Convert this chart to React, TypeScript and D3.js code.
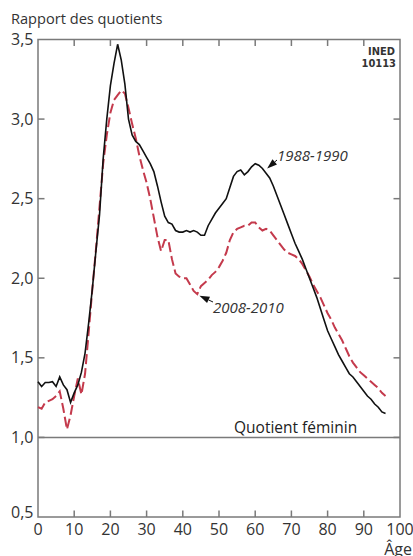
import React, { useEffect, useRef } from "react";
import * as d3 from "d3";

// ages 0..96, one value per year
const ages = d3.range(0, 97);

// 1988-1990 (solid black)
const ratio1988 = [
  1.35, 1.32, 1.345, 1.345, 1.35, 1.32, 1.38, 1.33, 1.30, 1.22,
  1.28, 1.33, 1.41, 1.53, 1.72, 1.93, 2.17, 2.40, 2.75, 3.00,
  3.21, 3.35, 3.47, 3.37, 3.22, 3.00, 2.90, 2.86, 2.84, 2.80,
  2.76, 2.72, 2.67, 2.58, 2.48, 2.39, 2.35, 2.34, 2.30, 2.29,
  2.29, 2.30, 2.29, 2.30, 2.29, 2.27, 2.27, 2.33, 2.37, 2.41,
  2.44, 2.47, 2.50, 2.57, 2.64, 2.67, 2.68, 2.65, 2.67, 2.70,
  2.72, 2.71, 2.69, 2.66, 2.63, 2.58, 2.52, 2.46, 2.40, 2.34,
  2.28, 2.22, 2.17, 2.12, 2.06, 2.00, 1.94, 1.88, 1.81, 1.74,
  1.67, 1.62, 1.57, 1.52, 1.48, 1.44, 1.40, 1.38, 1.35, 1.32,
  1.29, 1.26, 1.24, 1.21, 1.19, 1.16, 1.15,
];

// 2008-2010 (red dashed)
const ratio2008 = [
  1.19, 1.18, 1.22, 1.23, 1.24, 1.26, 1.29, 1.18, 1.05, 1.14,
  1.26, 1.37, 1.27, 1.40, 1.66, 1.93, 2.18, 2.45, 2.72, 2.90,
  3.04, 3.12, 3.15, 3.18, 3.16, 3.07, 2.97, 2.88, 2.77, 2.68,
  2.60, 2.50, 2.38, 2.26, 2.17, 2.24, 2.24, 2.12, 2.03, 2.01,
  2.00, 2.00, 1.96, 1.92, 1.90, 1.95, 1.97, 1.99, 2.02, 2.04,
  2.07, 2.11, 2.16, 2.24, 2.29, 2.31, 2.32, 2.33, 2.33, 2.35,
  2.35, 2.32, 2.30, 2.31, 2.30, 2.27, 2.24, 2.21, 2.18, 2.16,
  2.15, 2.14, 2.12, 2.09, 2.05, 2.01, 1.96, 1.92, 1.88, 1.83,
  1.78, 1.74, 1.69, 1.65, 1.61, 1.56, 1.51, 1.47, 1.44, 1.41,
  1.39, 1.37, 1.35, 1.33, 1.31, 1.28, 1.26,
];

const xTicks = [0, 10, 20, 30, 40, 50, 60, 70, 80, 90, 100];
const yTicks = [0.5, 1.0, 1.5, 2.0, 2.5, 3.0, 3.5];
const seriesLabels = ["1988-1990", "2008-2010"];

const W = 413;
const H = 556;

export default function App() {
  const ref = useRef<SVGSVGElement>(null);

  useEffect(() => {
    const svg = d3.select(ref.current);
    svg.selectAll("*").remove();

    const left = 38, right = 400, top = 39.5, bottom = 517;
    const font = "'Open Sans', 'Noto Sans', sans-serif";
    const frame = "#7a7a7a";
    const text = "#333";

    const x = d3.scaleLinear().domain([0, 100]).range([left, right]);
    const y = d3.scaleLinear().domain([0.5, 3.5]).range([bottom, top]);

    // y title
    svg.append("text")
      .attr("x", 11).attr("y", 24)
      .attr("font-family", font).attr("font-size", 14.6)
      .attr("fill", text)
      .text("Rapport des quotients");

    // reference line at 1.0
    svg.append("line")
      .attr("x1", left).attr("x2", right)
      .attr("y1", y(1)).attr("y2", y(1))
      .attr("stroke", frame).attr("stroke-width", 1.5);

    // frame
    svg.append("rect")
      .attr("x", left).attr("y", top)
      .attr("width", right - left).attr("height", bottom - top)
      .attr("fill", "none").attr("stroke", frame).attr("stroke-width", 1.5);

    // inner ticks, top and bottom
    const tk = 6.5;
    const inner = xTicks.slice(1, -1);
    svg.append("g").selectAll("line").data(inner).enter().append("line")
      .attr("x1", d => x(d)).attr("x2", d => x(d))
      .attr("y1", bottom).attr("y2", bottom - tk)
      .attr("stroke", frame).attr("stroke-width", 1.5);
    svg.append("g").selectAll("line").data(inner).enter().append("line")
      .attr("x1", d => x(d)).attr("x2", d => x(d))
      .attr("y1", top).attr("y2", top + tk)
      .attr("stroke", frame).attr("stroke-width", 1.5);

    // inner ticks, left and right
    const yInner = yTicks.slice(1, -1);
    svg.append("g").selectAll("line").data(yInner).enter().append("line")
      .attr("x1", left).attr("x2", left + tk)
      .attr("y1", d => y(d)).attr("y2", d => y(d))
      .attr("stroke", frame).attr("stroke-width", 1.5);
    svg.append("g").selectAll("line").data(yInner).enter().append("line")
      .attr("x1", right).attr("x2", right - tk)
      .attr("y1", d => y(d)).attr("y2", d => y(d))
      .attr("stroke", frame).attr("stroke-width", 1.5);

    // tick labels
    const fmt = (d: number) => d.toFixed(1).replace(".", ",");
    svg.append("g").selectAll("text").data(yTicks).enter().append("text")
      .attr("x", 33.5)
      .attr("y", d => y(d) + (d === 0.5 ? 1 : 5.5))
      .attr("text-anchor", "end")
      .attr("font-family", font).attr("font-size", 16)
      .attr("fill", text)
      .text(fmt);

    svg.append("g").selectAll("text").data(xTicks).enter().append("text")
      .attr("x", d => x(d))
      .attr("y", 535)
      .attr("text-anchor", "middle")
      .attr("font-family", font).attr("font-size", 16)
      .attr("fill", text)
      .text(d => String(d));

    svg.append("text")
      .attr("x", 412).attr("y", 555)
      .attr("text-anchor", "end")
      .attr("font-family", font).attr("font-size", 16)
      .attr("fill", text)
      .text("Âge");

    // source tag
    const tagFont = "'Liberation Sans Narrow', 'DejaVu Sans Condensed', sans-serif";
    svg.append("text")
      .attr("x", 395).attr("y", 55)
      .attr("text-anchor", "end")
      .attr("font-family", tagFont).attr("font-stretch", "condensed")
      .attr("font-weight", "bold").attr("font-size", 11)
      .attr("fill", text)
      .text("INED");
    svg.append("text")
      .attr("x", 396).attr("y", 67)
      .attr("text-anchor", "end")
      .attr("font-family", tagFont).attr("font-stretch", "condensed")
      .attr("font-weight", "bold").attr("font-size", 11)
      .attr("fill", text)
      .text("10113");

    // series
    const line = d3.line<number>()
      .x((_, i) => x(ages[i]))
      .y(d => y(d));

    svg.append("path")
      .datum(ratio2008)
      .attr("d", line)
      .attr("fill", "none")
      .attr("stroke", "#c43a4c")
      .attr("stroke-width", 2)
      .attr("stroke-dasharray", "10,4");

    svg.append("path")
      .datum(ratio1988)
      .attr("d", line)
      .attr("fill", "none")
      .attr("stroke", "#111")
      .attr("stroke-width", 1.6);

    svg.append("text")
      .attr("x", 234).attr("y", 433)
      .attr("font-family", font).attr("font-size", 15.5)
      .attr("fill", "#222")
      .text("Quotient féminin");

    // annotations with small arrows
    const arrow = (tx: number, ty: number, bx: number, by: number) => {
      const ang = Math.atan2(ty - by, tx - bx);
      const len = 10, half = 3.5;
      const px = -Math.sin(ang), py = Math.cos(ang);
      const baseX = tx - len * Math.cos(ang), baseY = ty - len * Math.sin(ang);
      svg.append("line")
        .attr("x1", bx).attr("y1", by).attr("x2", baseX).attr("y2", baseY)
        .attr("stroke", "#111").attr("stroke-width", 1);
      svg.append("path")
        .attr("d", `M${tx},${ty}L${baseX + px * half},${baseY + py * half}L${baseX - px * half},${baseY - py * half}Z`)
        .attr("fill", "#111");
    };

    arrow(x(63.3), y(2.69), 277, 160);
    svg.append("text")
      .attr("x", 277).attr("y", 161)
      .attr("font-family", font).attr("font-size", 15)
      .attr("font-style", "italic")
      .attr("fill", text)
      .text(seriesLabels[0]);

    arrow(x(44.6), y(1.89), 213, 302);
    svg.append("text")
      .attr("x", 213).attr("y", 313)
      .attr("font-family", font).attr("font-size", 15)
      .attr("font-style", "italic")
      .attr("fill", text)
      .text(seriesLabels[1]);
  }, []);

  return (
    <svg
      ref={ref}
      width={W}
      height={H}
      style={{ position: "absolute", left: 0, top: 0, background: "#fff" }}
    />
  );
}
